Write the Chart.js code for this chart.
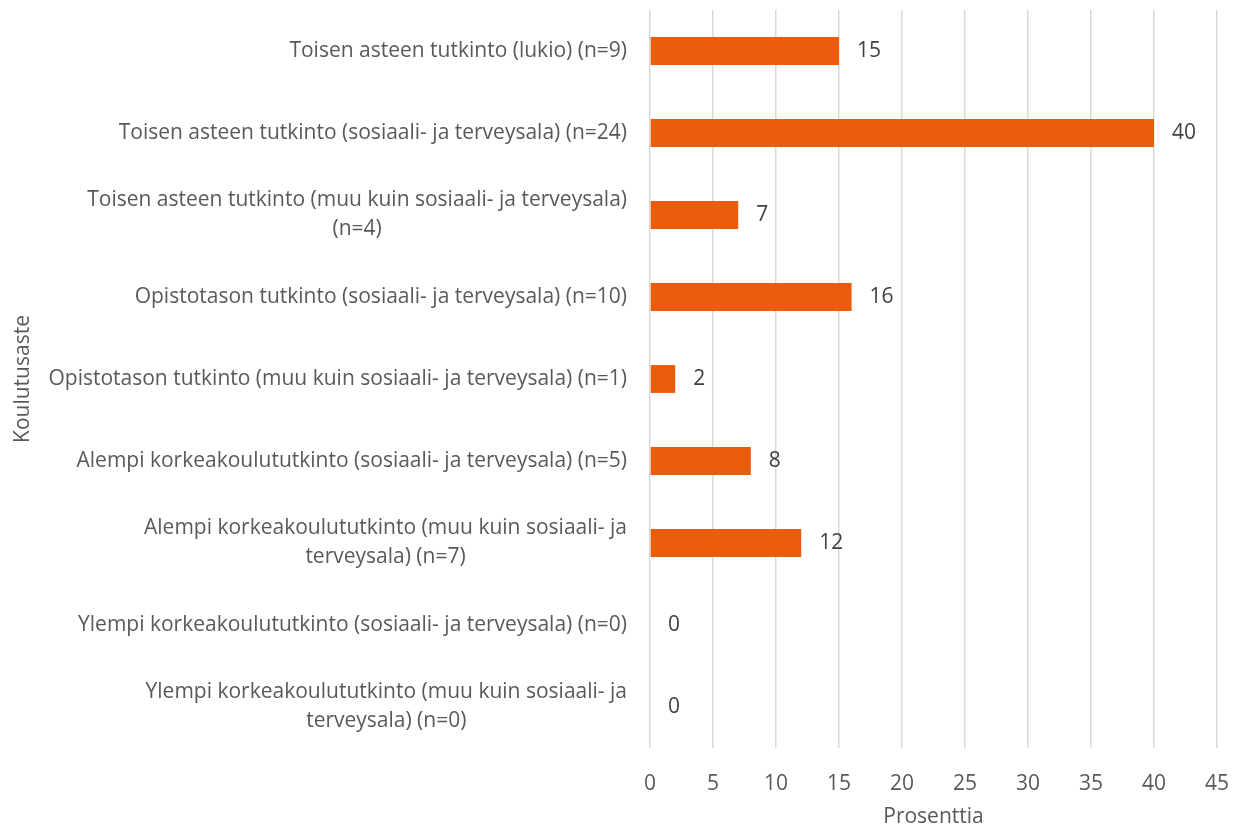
<!DOCTYPE html>
<html>
<head>
<meta charset="utf-8">
<script src="https://cdn.jsdelivr.net/npm/chart.js@4"></script>
<style>
  html, body { margin: 0; padding: 0; background: #fff; }
  #chart { display: block; }
</style>
</head>
<body>
<canvas id="chart" width="1239" height="830"></canvas>
<script>
const CATEGORIES = [
  ['Toisen asteen tutkinto (lukio) (n=9)'],
  ['Toisen asteen tutkinto (sosiaali- ja terveysala) (n=24)'],
  ['Toisen asteen tutkinto (muu kuin sosiaali- ja terveysala)', '(n=4)'],
  ['Opistotason tutkinto (sosiaali- ja terveysala) (n=10)'],
  ['Opistotason tutkinto (muu kuin sosiaali- ja terveysala) (n=1)'],
  ['Alempi korkeakoulututkinto (sosiaali- ja terveysala) (n=5)'],
  ['Alempi korkeakoulututkinto (muu kuin sosiaali- ja', 'terveysala) (n=7)'],
  ['Ylempi korkeakoulututkinto (sosiaali- ja terveysala) (n=0)'],
  ['Ylempi korkeakoulututkinto (muu kuin sosiaali- ja', 'terveysala) (n=0)']
]
const PERCENTS = [15, 40, 7, 16, 2, 8, 12, 0, 0]
const X_TICKS = [0, 5, 10, 15, 20, 25, 30, 35, 40, 45]

const FONT = '"Open Sans", sans-serif'
const SIZE = 21
const ORANGE = '#EA5B0C'

// category labels, right aligned as a block, lines centred inside it
const categoryLabels = {
  id: 'categoryLabels',
  afterDraw(chart) {
    const ctx = chart.ctx
    const y = chart.scales.y
    ctx.save()
    ctx.font = SIZE + 'px ' + FONT
    ctx.fillStyle = '#595959'
    ctx.textAlign = 'center'
    ctx.textBaseline = 'middle'
    const right = chart.chartArea.left - 23
    const lh = 29
    CATEGORIES.forEach((lines, i) => {
      const w = Math.max(...lines.map(l => ctx.measureText(l).width))
      const cy = y.getPixelForValue(i)
      lines.forEach((l, j) => {
        ctx.fillText(l, right - w / 2, cy + (j - (lines.length - 1) / 2) * lh)
      })
    })
    ctx.restore()
  }
}

// value labels at the end of each bar
const valueLabels = {
  id: 'valueLabels',
  afterDatasetsDraw(chart) {
    const ctx = chart.ctx
    const meta = chart.getDatasetMeta(0)
    ctx.save()
    ctx.font = SIZE + 'px ' + FONT
    ctx.fillStyle = '#404040'
    ctx.textAlign = 'left'
    ctx.textBaseline = 'middle'
    meta.data.forEach((bar, i) => {
      ctx.fillText(String(PERCENTS[i]), bar.x + 18, bar.y)
    })
    ctx.restore()
  }
}

new Chart(document.getElementById('chart'), {
  type: 'bar',
  data: {
    labels: CATEGORIES,
    datasets: [{
      data: PERCENTS,
      backgroundColor: ORANGE,
      borderWidth: 0,
      barPercentage: 0.68,
      categoryPercentage: 0.5
    }]
  },
  plugins: [categoryLabels, valueLabels],
  options: {
    indexAxis: 'y',
    responsive: false,
    animation: false,
    layout: { padding: { top: 10, right: 22, left: 0, bottom: 0 } },
    plugins: {
      legend: { display: false },
      tooltip: { enabled: false }
    },
    scales: {
      x: {
        min: 0,
        max: 45,
        afterBuildTicks: scale => { scale.ticks = X_TICKS.map(v => ({ value: v })) },
        afterFit: scale => {
          scale.height = 82
          scale.paddingLeft = 0
          scale.paddingRight = 0
        },
        grid: { color: '#d9d9d9', lineWidth: 1.5, drawTicks: false },
        border: { display: false },
        ticks: { padding: 23, color: '#595959', font: { family: FONT, size: SIZE } },
        title: {
          display: true,
          text: 'Prosenttia',
          color: '#595959',
          font: { family: FONT, size: SIZE },
          padding: { top: 10, bottom: 0 }
        }
      },
      y: {
        grid: { display: false },
        border: { display: false },
        ticks: { display: false },
        afterFit: scale => { scale.width = 650 },
        title: {
          display: true,
          text: 'Koulutusaste',
          color: '#595959',
          font: { family: FONT, size: SIZE },
          padding: { top: 10, bottom: 0 }
        }
      }
    }
  }
})
</script>
</body>
</html>
